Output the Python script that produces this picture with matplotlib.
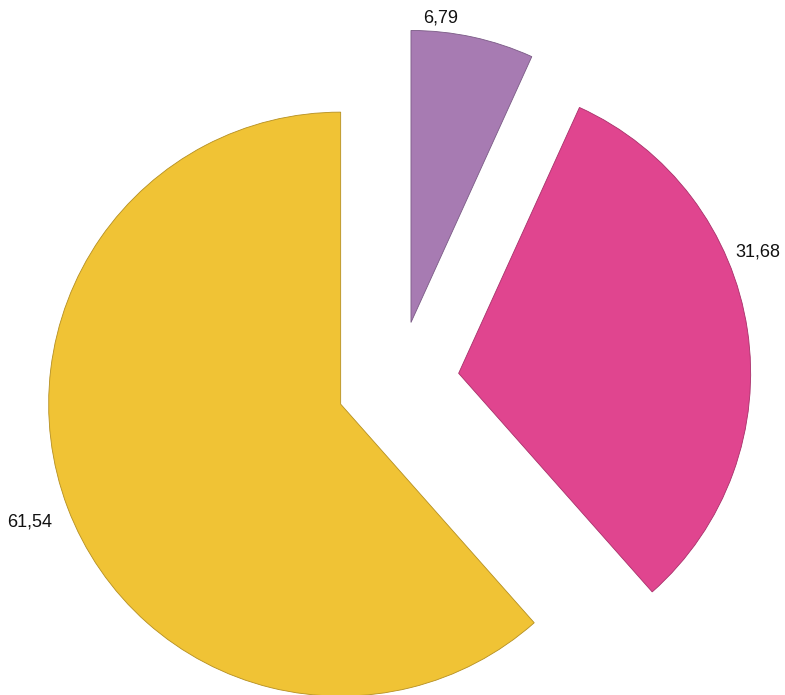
import numpy as np
import matplotlib.pyplot as plt

plt.rcParams['font.family'] = ['Liberation Sans', 'DejaVu Sans']

# slice values, clockwise from twelve o'clock
values = [6.79, 31.68, 61.54]
labels = ['6,79', '31,68', '61,54']
colors = ['#A77BB2', '#E0458F', '#F0C335']
edges = ['#7a5a85', '#a8306a', '#b58f20']

# label anchors in radius units, measured from the pie centre
label_xy = [(0.147, 1.248), (1.233, 0.447), (-1.260, -0.478)]

fig = plt.figure(figsize=(7.85, 6.95), dpi=100)
ax = fig.add_axes([0, 0, 1, 1])

wedges, _ = ax.pie(values, colors=colors, startangle=90, counterclock=False,
                   explode=[0.21] * 3, radius=1.0,
                   wedgeprops=dict(linewidth=0.6))
for w, ec in zip(wedges, edges):
    w.set_edgecolor(ec)

for txt, (x, y) in zip(labels, label_xy):
    ax.text(x, y, txt, ha='center', va='center', fontsize=13, color='#111111')

# 292 px per radius unit, centre at (398, 382) px
scale = 292.0
cx, cy = 398.0, 382.4
ax.set_xlim(-cx / scale, (785 - cx) / scale)
ax.set_ylim(-(695 - cy) / scale, cy / scale)
ax.set_aspect('equal')
ax.axis('off')

fig.savefig('out.png', dpi=100)
